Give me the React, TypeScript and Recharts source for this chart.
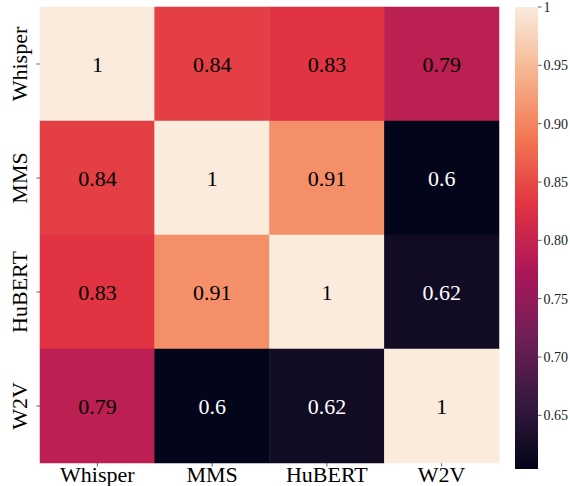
import {
  ScatterChart,
  Scatter,
  XAxis,
  YAxis,
  BarChart,
  Bar,
} from "recharts";

const models = ["Whisper", "MMS", "HuBERT", "W2V"];

const whisperRow = [1, 0.84, 0.83, 0.79];
const mmsRow = [0.84, 1, 0.91, 0.604];
const hubertRow = [0.83, 0.91, 1, 0.62];
const w2vRow = [0.79, 0.604, 0.62, 1];

const colorbarTicks = [0.65, 0.7, 0.75, 0.8, 0.85, 0.9, 0.95, 1];

// seaborn "rocket" colormap
const rocketStops: [number, string][] = [
  [0, "#03051a"],
  [1 / 7, "#35193e"],
  [2 / 7, "#701f57"],
  [3 / 7, "#ad1759"],
  [4 / 7, "#e13342"],
  [5 / 7, "#f37651"],
  [6 / 7, "#f6b48f"],
  [1, "#faebdd"],
];

const rows = [whisperRow, mmsRow, hubertRow, w2vRow];
const allValues = rows.flat();
const VMIN = Math.min(...allValues);
const VMAX = Math.max(...allValues);

const FONT = "Liberation Serif, Times New Roman, serif";

const hexToRgb = (h: string) => [
  parseInt(h.slice(1, 3), 16),
  parseInt(h.slice(3, 5), 16),
  parseInt(h.slice(5, 7), 16),
];

function rocket(t: number): number[] {
  const c = Math.max(0, Math.min(1, t));
  for (let i = 1; i < rocketStops.length; i++) {
    const [p1, c1] = rocketStops[i];
    const [p0, c0] = rocketStops[i - 1];
    if (c <= p1) {
      const f = (c - p0) / (p1 - p0);
      const a = hexToRgb(c0);
      const b = hexToRgb(c1);
      return a.map((v, k) => Math.round(v + (b[k] - v) * f));
    }
  }
  return hexToRgb(rocketStops[rocketStops.length - 1][1]);
}

function luminance(rgb: number[]) {
  const lin = rgb.map((v) => {
    const s = v / 255;
    return s <= 0.03928 ? s / 12.92 : Math.pow((s + 0.055) / 1.055, 2.4);
  });
  return 0.2126 * lin[0] + 0.7152 * lin[1] + 0.0722 * lin[2];
}

function fmt(v: number) {
  return String(parseFloat(v.toPrecision(2)));
}

const cells = rows.flatMap((row, r) =>
  row.map((v, c) => ({ x: c + 0.5, y: r + 0.5, v }))
);

// plot box of the heatmap
const LEFT = 40;
const TOP = 7;
const PLOT_W = 459;
const X_AXIS_H = 23;
const CHART_H = 486;
const PLOT_H = CHART_H - TOP - X_AXIS_H;
const CELL_W = PLOT_W / models.length;
const CELL_H = PLOT_H / models.length;

function HeatCell(props: any) {
  const { cx, cy, payload } = props;
  const rgb = rocket((payload.v - VMIN) / (VMAX - VMIN));
  const fill = `rgb(${rgb.join(",")})`;
  const textColor = luminance(rgb) > 0.05 ? "#000000" : "#ffffff";
  return (
    <g>
      <rect
        x={cx - CELL_W / 2}
        y={cy - CELL_H / 2}
        width={CELL_W}
        height={CELL_H}
        fill={fill}
        stroke={fill}
        strokeWidth={0.5}
      />
      <text
        x={cx}
        y={cy + 8}
        textAnchor="middle"
        fill={textColor}
        fontSize={22}
        fontFamily={FONT}
        style={{ fontFamily: FONT }}
      >
        {fmt(payload.v)}
      </text>
    </g>
  );
}

function YTick(props: any) {
  const { x, y, payload } = props;
  return (
    <text
      transform={`translate(${x - 7.5},${y}) rotate(-90)`}
      textAnchor="middle"
      fill="#000"
      fontSize={22}
      fontFamily={FONT}
      style={{ fontFamily: FONT }}
    >
      {models[Math.floor(payload.value)]}
    </text>
  );
}

const tickPos = models.map((_, i) => i + 0.5);

export default function App() {
  return (
    <div style={{ position: "absolute", left: 0, top: 0, width: 570, height: 486, background: "#fff" }}>
      <div style={{ position: "absolute", left: 0, top: 0 }}>
        <ScatterChart
          width={LEFT + PLOT_W + 1}
          height={CHART_H}
          margin={{ top: TOP, right: 1, left: 0, bottom: 0 }}
        >
          <XAxis
            type="number"
            dataKey="x"
            domain={[0, 4]}
            ticks={tickPos}
            tickFormatter={(v: number) => models[Math.floor(v)]}
            axisLine={false}
            tickSize={3.5}
            tickLine={{ stroke: "#333", strokeWidth: 0.8 }}
            height={X_AXIS_H}
            tick={{ fill: "#000", fontSize: 22, fontFamily: FONT, dy: -2 }}
            interval={0}
          />
          <YAxis
            type="number"
            dataKey="y"
            domain={[0, 4]}
            reversed
            ticks={tickPos}
            axisLine={false}
            tickSize={3.5}
            tickLine={{ stroke: "#333", strokeWidth: 0.8 }}
            width={LEFT}
            tick={<YTick />}
            interval={0}
          />
          <Scatter data={cells} shape={<HeatCell />} isAnimationActive={false} />
        </ScatterChart>
      </div>
      <div style={{ position: "absolute", left: 505, top: 0 }}>
        <BarChart
          width={65}
          height={486}
          data={[{ name: "cbar", v: [VMIN, VMAX] }]}
          margin={{ top: 7, right: 0, left: 10, bottom: 17 }}
          barCategoryGap={0}
        >
          <defs>
            <linearGradient id="cbar" x1="0" y1="1" x2="0" y2="0">
              {rocketStops.map(([p, c]) => (
                <stop key={p} offset={p} stopColor={c} />
              ))}
            </linearGradient>
          </defs>
          <XAxis dataKey="name" hide />
          <YAxis
            type="number"
            orientation="right"
            domain={[VMIN, VMAX]}
            ticks={colorbarTicks}
            allowDataOverflow
            axisLine={false}
            tickSize={3.5}
            tickLine={{ stroke: "#333", strokeWidth: 0.8 }}
            width={32}
            tick={{ fill: "#222", fontSize: 14, fontFamily: FONT }}
            tickFormatter={(v: number) => (v === 1 ? "1" : v.toFixed(2))}
            interval={0}
          />
          <Bar dataKey="v" fill="url(#cbar)" isAnimationActive={false} />
        </BarChart>
      </div>
    </div>
  );
}
